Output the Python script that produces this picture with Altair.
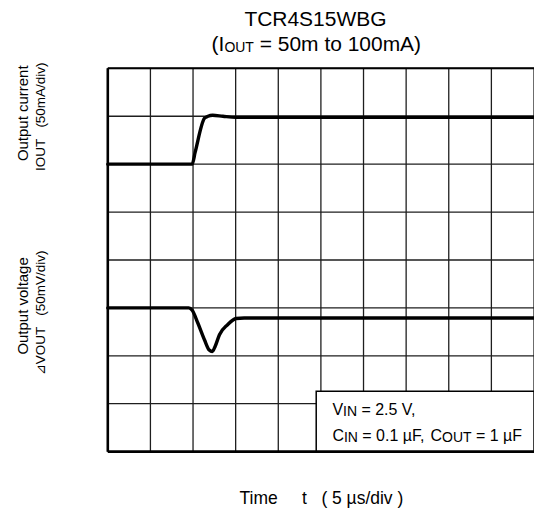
import altair as alt
import pandas as pd

# ---- data (divisions: x 0..10, y 0..8) ----
cur_t = [0, 1.98, 2.05, 2.27, 2.35, 2.46, 2.7, 3.0, 10]
cur_v = [6.0, 6.0, 6.25, 6.96, 7.0, 7.02, 7.0, 6.98, 6.98]

vol_t = [0, 1.9, 1.98, 2.11, 2.27, 2.38, 2.45, 2.52, 2.62, 2.81, 3.01, 3.2, 10]
vol_v = [3.0, 3.0, 2.95, 2.69, 2.33, 2.12, 2.09, 2.2, 2.44, 2.65, 2.78, 2.79, 2.79]

x_grid = list(range(0, 11))
y_grid = list(range(0, 9))

FONT = "Liberation Sans"
W, H = 427, 384
SP = "\u00a0"

# Arial advance widths (em/1000)
AW = {" ": 278, SP: 278, "(": 333, ")": 333, "=": 584, ".": 278, ",": 278, "/": 278,
      "A": 667, "C": 722, "F": 611, "I": 278, "N": 722, "O": 778, "T": 611,
      "U": 722, "V": 667, "m": 833, "t": 278, "o": 556, "µ": 576}
for d in "0123456789":
    AW[d] = 556


def nb(s):
    return s.replace(" ", SP)


def tw(s, size):
    return sum(AW.get(c, 556) for c in s) * size / 1000.0


def seg_layers(parts, x0, y0):
    """parts: list of (text, size, dy). Left-aligned run starting at x0 (px)."""
    layers = []
    x = x0
    for text, size, dy in parts:
        lead = len(text) - len(text.lstrip(" "))
        x += tw(" " * lead, size)
        t = nb(text.lstrip(" "))
        layers.append(
            alt.Chart(alt.Data(values=[{"a": 1}])).mark_text(
                align="left", baseline="alphabetic", font=FONT, fontSize=size, color="black"
            ).encode(x=alt.value(x), y=alt.value(y0 + dy), text=alt.value(t))
        )
        x += tw(t, size)
    return layers


def rot_text(text, x, y, size=15):
    return alt.Chart(alt.Data(values=[{"a": 1}])).mark_text(
        align="center", baseline="alphabetic", angle=270, font=FONT, fontSize=size, color="black"
    ).encode(x=alt.value(x), y=alt.value(y), text=alt.value(nb(text)))


cur_df = pd.DataFrame({"t": cur_t, "v": cur_v, "s": "cur"})
vol_df = pd.DataFrame({"t": vol_t, "v": vol_v, "s": "vol"})
trace_df = pd.concat([cur_df, vol_df])

xs = alt.Scale(domain=[0, 10], nice=False, zero=False)
ys = alt.Scale(domain=[0, 8], nice=False, zero=False)

grid_x = alt.Chart(pd.DataFrame({"g": x_grid})).mark_rule(color="#1e1e1e", strokeWidth=1.3).encode(
    x=alt.X("g:Q", scale=xs, axis=alt.Axis(title=nb("Time     t   ( 5 µs/div )"), labels=False, ticks=False,
                                            domain=False, grid=False, titleFont=FONT, titleFontSize=17.5,
                                            titleFontWeight="normal", titleColor="black", titlePadding=38)),
    y=alt.value(0), y2=alt.value(H),
)
grid_y = alt.Chart(pd.DataFrame({"g": y_grid})).mark_rule(color="#1e1e1e", strokeWidth=1.3).encode(
    y=alt.Y("g:Q", scale=ys, axis=None),
    x=alt.value(0), x2=alt.value(W),
)

border_df = pd.DataFrame({"x": [0, 0, 0], "x2": [0, 10, 10], "y": [0, 8, 0], "y2": [8, 8, 0],
                          "w": [2.6, 2.0, 2.6]})
borders = alt.Chart(border_df).mark_rule(color="black").encode(
    x=alt.X("x:Q", scale=xs), x2="x2:Q", y=alt.Y("y:Q", scale=ys), y2="y2:Q",
    strokeWidth=alt.StrokeWidth("w:Q", scale=None),
)

traces = alt.Chart(trace_df).mark_line(color="black", strokeWidth=3.4, interpolate="monotone",
                                       strokeJoin="round", strokeCap="round").encode(
    x=alt.X("t:Q", scale=xs), y=alt.Y("v:Q", scale=ys), detail="s:N"
)

box = alt.Chart(pd.DataFrame({"x": [4.89], "x2": [10.0], "y": [0.0], "y2": [1.26]})).mark_rect(
    fill="white", stroke="black", strokeWidth=1.5
).encode(x=alt.X("x:Q", scale=xs), x2="x2:Q", y=alt.Y("y:Q", scale=ys), y2="y2:Q")

OX, OY = 108, 68  # plot origin in page px

texts = []
# title
texts.append(alt.Chart(alt.Data(values=[{"a": 1}])).mark_text(
    align="center", baseline="alphabetic", font=FONT, fontSize=21, color="black"
).encode(x=alt.value(316 - OX), y=alt.value(26 - OY), text=alt.value("TCR4S15WBG")))
texts += seg_layers([("(I", 21, 0), ("OUT", 14, 1), (" = 50m to 100mA)", 21, 0)], 212 - OX, 51 - OY)
# legend box text
texts += seg_layers([("V", 16, 0), ("IN", 14, 1), (" = 2.5 V,", 16, 0)], 333 - OX, 415 - OY)
texts += seg_layers([("C", 16, 0), ("IN", 14, 1), (" = 0.1 µF,", 16, 0), (" C", 16, 0), ("OUT", 14, 1),
                     (" = 1 µF", 16, 0)], 333 - OX, 441.5 - OY)
# rotated y labels
texts.append(rot_text("Output current", 28 - OX, 113 - OY, 15))
texts.append(rot_text("IOUT   (50mA/div)", 45 - OX, 116.5 - OY, 13.5))
texts.append(rot_text("Output voltage", 28 - OX, 306 - OY, 15))
texts.append(rot_text("⊿VOUT   (50mV/div)", 45 - OX, 313 - OY, 13.5))

chart = alt.layer(grid_x, grid_y, traces, box, borders, *texts).properties(
    width=W, height=H,
    autosize=alt.AutoSizeParams(type="none"),
    padding={"left": OX, "top": OY, "right": 0, "bottom": 513 - OY - H},
).configure_view(stroke=None).configure(background="white")

chart.save("out.html", embed_options={"renderer": "svg", "actions": False})
